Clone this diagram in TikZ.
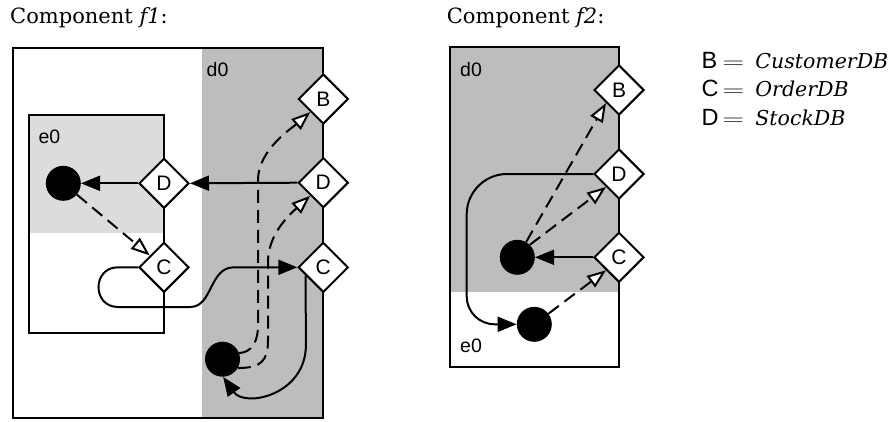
\documentclass[tikz,border=0pt]{standalone}
\usepackage{fontspec}
\usepackage{graphicx}
\setmainfont{DejaVu Serif}
\setsansfont{Liberation Sans}
\usetikzlibrary{arrows.meta,shapes.geometric}
\definecolor{dzero}{HTML}{BDBDBD}
\definecolor{ezero}{HTML}{DCDCDC}
\newcommand{\legsf}{\sffamily\fontsize{23.5}{24}\selectfont}
\newcommand{\legeq}{\makebox[21.7pt][c]{\scalebox{1.45}[1]{$=$}}}
\begin{document}
\begin{tikzpicture}[x=1pt,y=-1pt,
  port/.style={diamond, draw, fill=white, line width=2pt, minimum size=50pt, inner sep=0pt, font=\sffamily\fontsize{21}{21}\selectfont},
  blob/.style={circle, fill=black, minimum size=35pt, inner sep=0pt},
  flow/.style={line width=2pt, -{Triangle[length=19pt,width=15pt]}},
  dep/.style={line width=2pt, dash pattern=on 13pt off 7pt, -{Triangle[open,length=19pt,width=14pt,fill=white]}},
  region/.style={font=\sffamily\fontsize{19.5}{20}\selectfont, anchor=base west, inner sep=0pt},
  title/.style={font=\fontsize{21}{24}\selectfont, anchor=base west, inner sep=0pt},
  legend/.style={font=\fontsize{20.5}{24}\selectfont, anchor=base west, inner sep=0pt},
  frame/.style={line width=2pt},
]
\useasboundingbox (0,0) rectangle (889,421);

% titles
\node[title] (t1) at (10,23.3) {Component \textit{f1}:};
\node[title] (t2) at (446.7,23.3) {Component \textit{f2}:};

% ---------- component f1 ----------
\fill[dzero] (201.7,48.3) rectangle (323.3,417.5);
\fill[ezero] (29.3,115) rectangle (164,233.3);
\draw[frame] (13,48.3) rectangle (323.3,417.5);
\draw[frame] (29.3,115) rectangle (164,333.3);
\node[region] (d0a) at (206.5,76.5) {d0};
\node[region] (e0a) at (38.3,143.3) {e0};

\node[port] (aD) at (164,183.3) {D};
\node[port] (aC) at (164,267.3) {C};
\node[port] (bB) at (323.3,99) {B};
\node[port] (bD) at (323.3,182.7) {D};
\node[port] (bC) at (323.3,267.3) {C};
\node[blob] (c1) at (63.3,183.3) {};
\node[blob] (c2) at (222.5,359.2) {};

\draw[flow] (bD.west) -- (aD.east);
\draw[flow] (aD.west) -- (c1);
\draw[dep] (c1) -- (aC);
\draw[flow] (aC.west) -- (118,267.3) .. controls (92,267.3) and (92,307) .. (118,307)
  -- (190,307) .. controls (213,307) and (209,267.3) .. (234,267.3) -- (bC.west);
\draw[flow] (bC.205) -- (305.9,345) .. controls (305.9,395) and (245,408) .. (c2.-88);
\draw[dep] (c2.20) .. controls (252,352) and (258,342) .. (258,325) -- (258,180)
  .. controls (258,150) and (292,128) .. (bB.south west);
\draw[dep] (c2.-30) .. controls (262,368) and (268,360) .. (268,340) -- (268,262)
  .. controls (268,235) and (288,216) .. (bD.south west);

% ---------- component f2 ----------
\fill[dzero] (450,47.3) rectangle (619,291.7);
\draw[frame] (450,47.3) rectangle (619,366.7);
\node[region] (d0b) at (460,76.5) {d0};
\node[region] (e0b) at (460,352.3) {e0};

\node[port] (fB) at (619,90) {B};
\node[port] (fD) at (619,174) {D};
\node[port] (fC) at (619,257.3) {C};
\node[blob] (u) at (517.3,257.3) {};
\node[blob] (l) at (534.3,324.3) {};

\draw[flow] (fC.west) -- (u);
\draw[dep] (u.60) -- (fB.south west);
\draw[dep] (u.45) -- (fD.south west);
\draw[dep] (l) -- (fC.south west);
\draw[flow] (fD.west) -- (507,174) .. controls (484.8,174) and (466.7,192.1) .. (466.7,214.3)
  -- (466.7,296.3) .. controls (466.7,311.8) and (479.2,324.3) .. (494.7,324.3) -- (l);

% ---------- legend ----------
\node[legend] (kB) at (701.5,68.3) {\makebox[21pt][l]{\legsf B}\legeq\hspace{11pt}\textit{CustomerDB}};
\node[legend] (kC) at (701.5,96.7) {\makebox[21pt][l]{\legsf C}\legeq\hspace{11pt}\textit{OrderDB}};
\node[legend] (kD) at (701.5,125) {\makebox[21pt][l]{\legsf D}\legeq\hspace{11pt}\textit{StockDB}};
\end{tikzpicture}
\end{document}
